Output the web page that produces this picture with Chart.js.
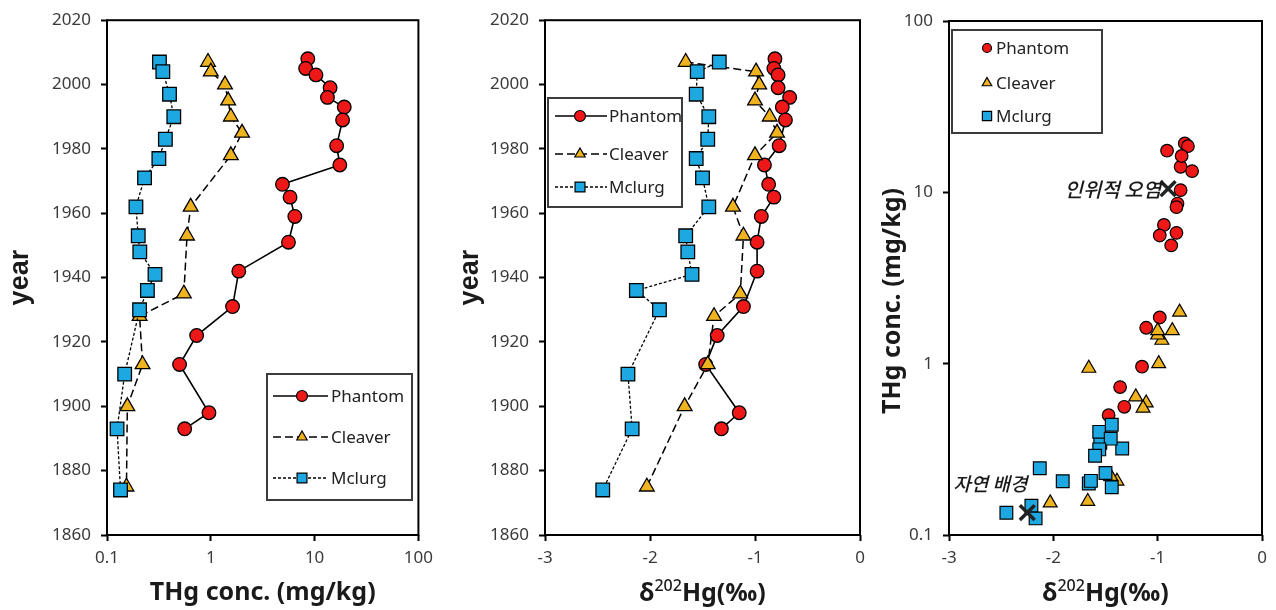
<!DOCTYPE html>
<html><head><meta charset="utf-8">
<script src="https://cdn.jsdelivr.net/npm/chart.js@4.4.1/dist/chart.umd.min.js"></script>
<style>
html,body{margin:0;padding:0;background:#fff;}
body{width:1276px;height:610px;position:relative;overflow:hidden;}
canvas{position:absolute;top:0;}
</style></head><body>
<canvas id="c1" width="440" height="610" style="left:0px"></canvas>
<canvas id="c2" width="440" height="610" style="left:440px"></canvas>
<canvas id="c3" width="401" height="610" style="left:875px"></canvas>
<script>
// ---------------- data ----------------
const siteNames = ['Phantom', 'Cleaver', 'Mclurg'];

const phantomYears = [2008, 2005, 2003, 1999, 1996, 1993, 1989, 1981, 1975, 1969, 1965, 1959, 1951, 1942, 1931, 1922, 1913, 1898, 1893];
const phantomConc  = [8.6, 8.2, 10.3, 14.1, 13.3, 19.3, 18.6, 16.3, 17.5, 4.9, 5.8, 6.45, 5.6, 1.86, 1.62, 0.73, 0.50, 0.96, 0.56];
const phantomDelta = [-0.81, -0.82, -0.78, -0.78, -0.67, -0.74, -0.71, -0.77, -0.91, -0.87, -0.82, -0.94, -0.98, -0.98, -1.11, -1.36, -1.47, -1.15, -1.32];

const cleaverYears = [2007, 2004, 2000, 1995, 1990, 1985, 1978, 1962, 1953, 1935, 1928, 1913, 1900, 1875];
const cleaverConc  = [0.94, 1.0, 1.37, 1.47, 1.56, 2.0, 1.56, 0.64, 0.59, 0.55, 0.206, 0.22, 0.157, 0.154];
const cleaverDelta = [-1.66, -0.99, -0.96, -1.0, -0.86, -0.79, -1.0, -1.21, -1.11, -1.14, -1.39, -1.45, -1.67, -2.03];

const mclurgYears = [2007, 2004, 1997, 1990, 1983, 1977, 1971, 1962, 1953, 1948, 1941, 1936, 1930, 1910, 1893, 1874];
const mclurgConc  = [0.32, 0.345, 0.40, 0.44, 0.365, 0.316, 0.23, 0.19, 0.20, 0.207, 0.29, 0.245, 0.206, 0.148, 0.125, 0.135];
const mclurgDelta = [-1.34, -1.55, -1.56, -1.44, -1.45, -1.56, -1.50, -1.44, -1.66, -1.64, -1.60, -2.13, -1.91, -2.21, -2.17, -2.45];

const concTicks  = [0.1, 1, 10, 100];
const yearTicks  = [1860, 1880, 1900, 1920, 1940, 1960, 1980, 2000, 2020];
const deltaTicks = [-3, -2, -1, 0];

const markLabels = ['인위적 오염', '자연 배경'];
const markDelta  = [-0.9, -2.25];
const markConc   = [10.5, 0.135];

const yearTitle = 'year';
const concTitle = 'THg conc. (mg/kg)';

// ---------------- styles ----------------
const RED = '#EE1818', YEL = '#F0B320', BLU = '#1EA8E2';
const TICK_FONT = {family: "'Noto Sans', sans-serif", size: 17};
const TICK_COLOR = '#3a3a3a';

const pts = (xs, ys) => xs.map((x, i) => ({x, y: ys[i]}));

// ---------------- plugins ----------------
const framePlugin = {
  id: 'frame',
  afterDatasetsDraw(chart) {
    const {ctx, chartArea: a} = chart;
    ctx.save();
    ctx.strokeStyle = '#000';
    ctx.lineWidth = 2;
    ctx.strokeRect(a.left, a.top, a.right - a.left, a.bottom - a.top);
    ctx.restore();
  }
};

function drawMarker(ctx, style, r, x, y) {
  ctx.beginPath();
  if (style === 'circle') {
    ctx.arc(x, y, r, 0, Math.PI * 2);
  } else if (style === 'triangle') {
    ctx.moveTo(x, y - r);
    ctx.lineTo(x + r * Math.sin(Math.PI * 2 / 3), y - r * Math.cos(Math.PI * 2 / 3));
    ctx.lineTo(x - r * Math.sin(Math.PI * 2 / 3), y - r * Math.cos(Math.PI * 2 / 3));
    ctx.closePath();
  } else {
    const s = r * Math.SQRT1_2;
    ctx.rect(x - s, y - s, 2 * s, 2 * s);
  }
  ctx.fill();
  ctx.stroke();
}

const boxLegend = {
  id: 'boxLegend',
  afterDraw(chart, args, o) {
    if (!o || !o.box) return;
    const ctx = chart.ctx;
    ctx.save();
    ctx.strokeStyle = '#3c3c3c';
    ctx.lineWidth = 2;
    ctx.strokeRect(o.box[0], o.box[1], o.box[2], o.box[3]);
    o.rows.forEach((dsIndex, i) => {
      const ds = chart.data.datasets[dsIndex];
      const y = o.ys[i];
      if (o.lineX) {
        ctx.strokeStyle = '#000';
        ctx.lineWidth = ds.borderWidth;
        ctx.setLineDash(ds.borderDash || []);
        ctx.beginPath();
        ctx.moveTo(o.lineX[0], y);
        ctx.lineTo(o.lineX[1], y);
        ctx.stroke();
        ctx.setLineDash([]);
      }
      ctx.fillStyle = ds.pointBackgroundColor;
      ctx.strokeStyle = '#000';
      ctx.lineWidth = 1.2;
      drawMarker(ctx, ds.pointStyle, o.radii[i], o.markerX, y);
      ctx.fillStyle = '#222';
      ctx.font = "17px 'Noto Sans', sans-serif";
      ctx.textBaseline = 'middle';
      ctx.textAlign = 'left';
      ctx.fillText(ds.label, o.textX, y + 1);
    });
    ctx.restore();
  }
};

const textPlugin = {
  id: 'texts',
  afterDraw(chart, args, o) {
    if (!o || !o.items) return;
    const ctx = chart.ctx;
    o.items.forEach(it => {
      const p = it.pos(chart);
      ctx.save();
      ctx.translate(p.x, p.y);
      if (it.rot) ctx.rotate(it.rot);
      ctx.fillStyle = it.color || '#1a1a1a';
      ctx.textBaseline = 'middle';
      ctx.textAlign = 'left';
      let total = 0;
      const ws = it.segs.map(s => { ctx.font = s.font; const w = ctx.measureText(s.t).width; total += w; return w; });
      let cx = it.align === 'right' ? -total : (it.align === 'left' ? 0 : -total / 2);
      it.segs.forEach((s, i) => { ctx.font = s.font; ctx.fillText(s.t, cx, s.dy || 0); cx += ws[i]; });
      ctx.restore();
    });
  }
};

const deltaTitleSegs = [
  {t: 'δ', font: "bold 25px 'Noto Sans', sans-serif"},
  {t: '202', font: "500 16px 'Noto Sans', sans-serif", dy: -8},
  {t: 'Hg(‰)', font: "bold 25px 'Noto Sans', sans-serif"}
];

function tickGrid() {
  return {display: true, drawOnChartArea: false, drawTicks: true, tickLength: 6, tickWidth: 2, tickColor: '#000', color: '#000'};
}

function logScale(isX) {
  return {
    type: 'logarithmic', min: 0.1, max: 100,
    afterBuildTicks: s => { s.ticks = concTicks.map(v => ({value: v})); },
    ticks: {callback: v => String(v), font: TICK_FONT, color: TICK_COLOR, padding: isX ? 7 : 10, autoSkip: false, maxRotation: 0},
    grid: tickGrid(), border: {display: false}
  };
}

function profileDatasets(xP, xC, xM) {
  return [
    {label: siteNames[0], data: pts(xP, phantomYears), showLine: true, borderColor: '#000', borderWidth: 1.6,
     pointStyle: 'circle', pointRadius: 6.8, pointBackgroundColor: RED, pointBorderColor: '#000', pointBorderWidth: 1.3, order: 3},
    {label: siteNames[1], data: pts(xC, cleaverYears), showLine: true, borderColor: '#000', borderWidth: 1.5, borderDash: [8, 4],
     pointStyle: 'triangle', pointRadius: 8.5, pointBackgroundColor: YEL, pointBorderColor: '#000', pointBorderWidth: 1.3, order: 2},
    {label: siteNames[2], data: pts(xM, mclurgYears), showLine: true, borderColor: '#000', borderWidth: 1.3, borderDash: [3, 2],
     pointStyle: 'rect', pointRadius: 9.6, pointBackgroundColor: BLU, pointBorderColor: '#000', pointBorderWidth: 1.3, order: 1}
  ];
}

function yearScale(width, padTop) {
  return {
    type: 'linear', min: 1860, max: 2020,
    afterBuildTicks: s => { s.ticks = yearTicks.map(v => ({value: v})); },
    afterFit: s => { s.width = width; },
    ticks: {callback: v => String(v), font: TICK_FONT, color: TICK_COLOR, padding: 10},
    grid: tickGrid(), border: {display: false},
    title: {display: true, text: yearTitle, color: '#1a1a1a',
            font: {family: "'Liberation Sans', Arial, sans-serif", size: 27, weight: 'bold'}, padding: {top: padTop, bottom: 0}}
  };
}

const common = {responsive: false, animation: false, devicePixelRatio: 1, events: []};

// ---------------- panel 1 ----------------
const x1 = logScale(true);
x1.afterFit = s => { s.height = 75; };
x1.title = {display: true, text: concTitle, color: '#1a1a1a',
            font: {family: "'Noto Sans', sans-serif", size: 25, weight: 'bold'}, padding: {top: 0, bottom: 2}};
new Chart(document.getElementById('c1'), {
  type: 'scatter',
  data: {datasets: profileDatasets(phantomConc, cleaverConc, mclurgConc)},
  options: Object.assign({}, common, {
    layout: {padding: {top: 20, right: 17, left: 0, bottom: 0}},
    plugins: {legend: {display: false}, tooltip: {enabled: false},
      boxLegend: {box: [267, 374, 145, 126], rows: [0, 1, 2], ys: [396, 437, 478], lineX: [273, 328], markerX: 302, radii: [5.5, 6, 7], textX: 331}},
    scales: {x: x1, y: yearScale(107, 4)}
  }),
  plugins: [framePlugin, boxLegend]
});

// ---------------- panel 2 ----------------
new Chart(document.getElementById('c2'), {
  type: 'scatter',
  data: {datasets: profileDatasets(phantomDelta, cleaverDelta, mclurgDelta)},
  options: Object.assign({}, common, {
    layout: {padding: {top: 20, right: 20, left: 0, bottom: 0}},
    plugins: {legend: {display: false}, tooltip: {enabled: false},
      boxLegend: {box: [108, 98, 134, 109], rows: [0, 1, 2], ys: [116, 154, 187], lineX: [115, 167], markerX: 140, radii: [5.5, 6, 7], textX: 169},
      texts: {items: [{segs: deltaTitleSegs, pos: c => ({x: (c.chartArea.left + c.chartArea.right) / 2, y: 594})}]}},
    scales: {
      x: {type: 'linear', min: -3, max: 0,
          afterBuildTicks: s => { s.ticks = deltaTicks.map(v => ({value: v})); },
          afterFit: s => { s.height = 75; },
          ticks: {callback: v => String(v), font: TICK_FONT, color: TICK_COLOR, padding: 7},
          grid: tickGrid(), border: {display: false}},
      y: yearScale(105, 14)
    }
  }),
  plugins: [framePlugin, boxLegend, textPlugin]
});

// ---------------- panel 3 ----------------
const y3 = logScale(false);
y3.afterFit = s => { s.width = 74; };
new Chart(document.getElementById('c3'), {
  type: 'scatter',
  data: {datasets: [
    {label: siteNames[0], data: pts(phantomDelta, phantomConc), pointStyle: 'circle', pointRadius: 6.3,
     pointBackgroundColor: RED, pointBorderColor: '#000', pointBorderWidth: 1.2, order: 3},
    {label: siteNames[1], data: pts(cleaverDelta, cleaverConc), pointStyle: 'triangle', pointRadius: 8,
     pointBackgroundColor: YEL, pointBorderColor: '#000', pointBorderWidth: 1.2, order: 2},
    {label: siteNames[2], data: pts(mclurgDelta, mclurgConc), pointStyle: 'rect', pointRadius: 9,
     pointBackgroundColor: BLU, pointBorderColor: '#000', pointBorderWidth: 1.2, order: 1},
    {label: 'marks', data: pts(markDelta, markConc), pointStyle: 'crossRot', pointRadius: 10.5,
     pointBorderColor: '#222', pointBorderWidth: 3.5, order: 0}
  ]},
  options: Object.assign({}, common, {
    layout: {padding: {top: 21, right: 13, left: 0, bottom: 0}},
    plugins: {legend: {display: false}, tooltip: {enabled: false},
      boxLegend: {box: [77, 30, 150, 103], rows: [0, 1, 2], ys: [48, 83, 116], markerX: 112, radii: [4.5, 5.5, 6.5], textX: 121},
      texts: {items: [
        {segs: deltaTitleSegs, pos: c => ({x: (c.chartArea.left + c.chartArea.right) / 2, y: 594})},
        {segs: [{t: concTitle, font: "bold 25px 'Noto Sans', sans-serif"}], rot: -Math.PI / 2, pos: c => ({x: 18, y: 301})},
        {segs: [{t: markLabels[0], font: "italic 500 20px 'Noto Sans CJK KR', sans-serif"}], align: 'right', color: '#1a1a1a',
         pos: c => ({x: c.scales.x.getPixelForValue(markDelta[0]) - 7, y: c.scales.y.getPixelForValue(markConc[0]) + 1})},
        {segs: [{t: markLabels[1], font: "italic 500 19px 'Noto Sans CJK KR', sans-serif"}], align: 'left', color: '#1a1a1a',
         pos: c => ({x: c.scales.x.getPixelForValue(markDelta[1]) - 74, y: c.scales.y.getPixelForValue(markConc[1]) - 29})}
      ]}},
    scales: {
      x: {type: 'linear', min: -3, max: 0,
          afterBuildTicks: s => { s.ticks = deltaTicks.map(v => ({value: v})); },
          afterFit: s => { s.height = 75; },
          ticks: {callback: v => String(v), font: TICK_FONT, color: TICK_COLOR, padding: 7},
          grid: tickGrid(), border: {display: false}},
      y: y3
    }
  }),
  plugins: [framePlugin, boxLegend, textPlugin]
});
</script>
</body></html>
